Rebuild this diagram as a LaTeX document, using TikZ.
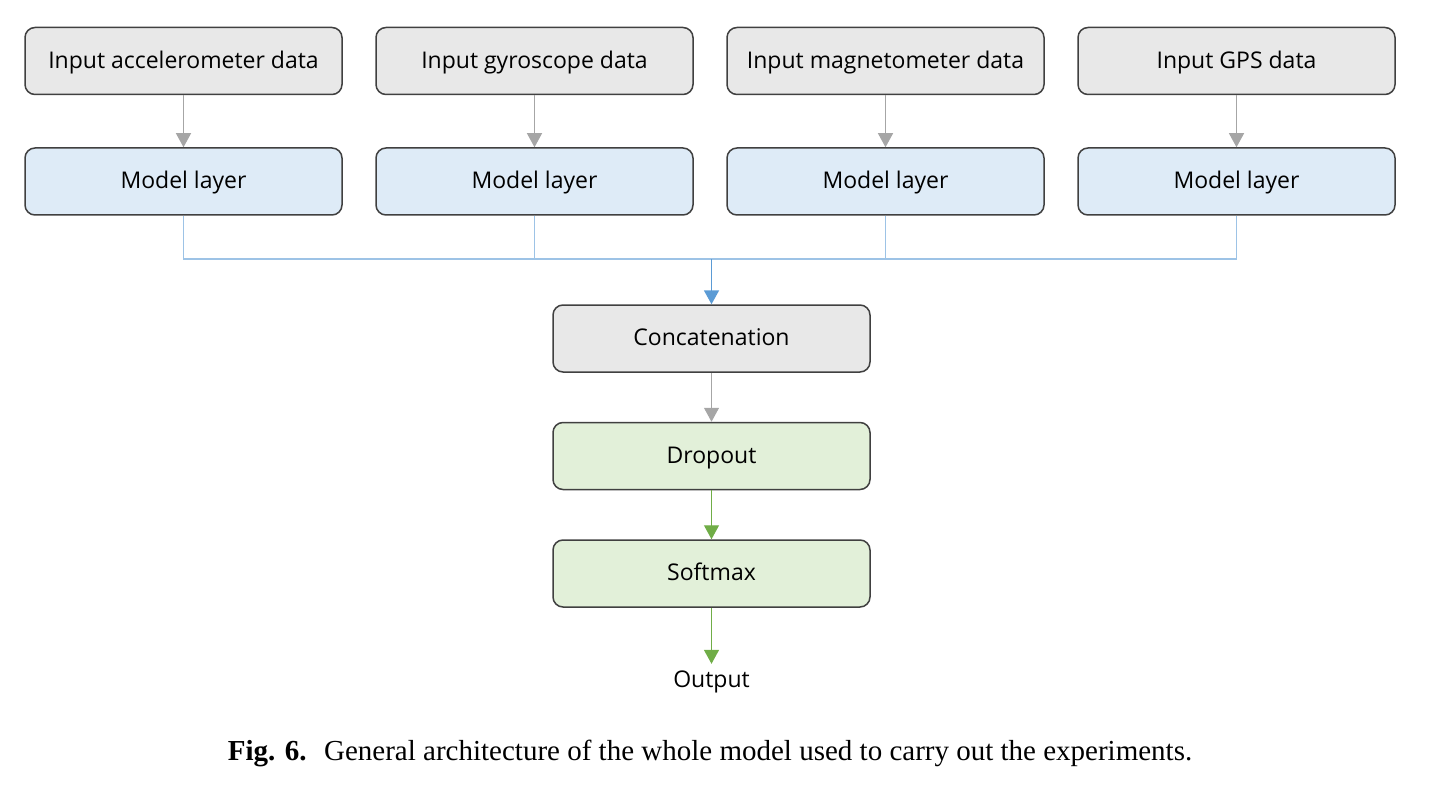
\documentclass[tikz,border=0pt]{standalone}
\usepackage{fontspec}
\setmainfont{Liberation Serif}
\newfontfamily\boxfont{Open Sans}
\usetikzlibrary{arrows.meta,positioning}
\definecolor{boxline}{HTML}{404040}
\definecolor{grayfill}{HTML}{E8E8E8}
\definecolor{bluefill}{HTML}{DEEBF7}
\definecolor{greenfill}{HTML}{E2F0D9}
\definecolor{grayarrow}{HTML}{A6A6A6}
\definecolor{busline}{HTML}{9DC3E6}
\definecolor{bluearrow}{HTML}{5B9BD5}
\definecolor{greenarrow}{HTML}{70AD47}
\tikzset{
  block/.style    = {shape=rectangle, draw=boxline, line width=0.75pt,
                     rounded corners=5pt, minimum width=158.5pt,
                     minimum height=33.5pt, inner sep=0pt,
                     text height=0.71em, text depth=0pt,
                     font=\boxfont\fontsize{11.5}{13}\selectfont},
  inputbox/.style = {block, fill=grayfill},
  layerbox/.style = {block, fill=bluefill},
  headbox/.style  = {block, fill=greenfill},
  grayflow/.style = {draw=grayarrow, line width=0.6pt,
                     -{Triangle[length=7pt,width=7.5pt]}},
  greenflow/.style= {draw=greenarrow, line width=0.6pt,
                     -{Triangle[length=7pt,width=7.5pt]}},
  bus/.style      = {draw=busline, line width=0.6pt}
}
\begin{document}
\begin{tikzpicture}[x=0.5pt,y=-0.5pt]
  \useasboundingbox (0,0) rectangle (1455,802);
  % sensor columns
  \foreach \i/\x/\name in {1/183.5/accelerometer, 2/534.5/gyroscope,
                           3/885.5/magnetometer, 4/1236.5/GPS}
  {
    \node[inputbox] (input-\i) at (\x,61)    {Input \name{} data};
    \node[layerbox] (layer-\i) at (\x,181.5) {Model layer};
    \draw[grayflow] (input-\i) -- (layer-\i);
  }
  \coordinate (join) at (711.5,259);
  \draw[bus] (layer-1.south) |- (join);
  \draw[bus] (layer-4.south) |- (join);
  \draw[bus] (layer-2.south) -- (layer-2.south |- join);
  \draw[bus] (layer-3.south) -- (layer-3.south |- join);
  % head of the model
  \node[inputbox] (concat)  at (711.5,338.5) {Concatenation};
  \node[headbox]  (dropout) at (711.5,456)   {Dropout};
  \node[headbox]  (softmax) at (711.5,573.5) {Softmax};
  \node[font=\boxfont\fontsize{11.5}{13}\selectfont] (output) at (711.5,682) {Output};
  \draw[draw=bluearrow, line width=0.9pt, -{Triangle[length=7pt,width=7.5pt]}]
    (join) -- (concat);
  \draw[grayflow]  (concat)  -- (dropout);
  \draw[greenflow] (dropout) -- (softmax);
  \draw[greenflow] (softmax) -- (output);
  % caption
  \node[font=\fontsize{14.5}{16}\selectfont] (caption) at (710,753)
    {\textbf{Fig. 6.}\hspace{0.6em}General architecture of the whole model used to carry out the experiments.};
\end{tikzpicture}
\end{document}
